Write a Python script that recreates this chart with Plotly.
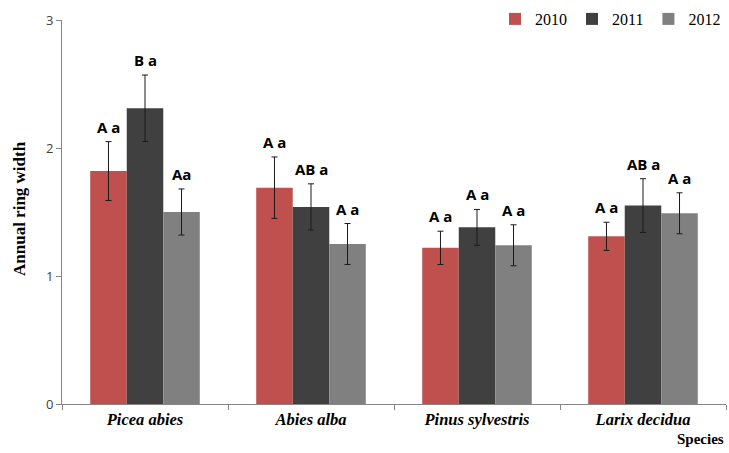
import plotly.graph_objects as go

# Mean annual ring width per species and year, with error margins
species = ["Picea abies", "Abies alba", "Pinus sylvestris", "Larix decidua"]
years = ["2010", "2011", "2012"]

width_2010 = [1.82, 1.69, 1.22, 1.31]
width_2011 = [2.31, 1.54, 1.38, 1.55]
width_2012 = [1.50, 1.25, 1.24, 1.49]

err_2010 = [0.23, 0.24, 0.13, 0.11]
err_2011 = [0.26, 0.18, 0.14, 0.21]
err_2012 = [0.18, 0.16, 0.16, 0.16]

# Significance letters shown above each bar
letters_2010 = ["A a", "A a", "A a", "A a"]
letters_2011 = ["B a", "AB a", "A a", "AB a"]
letters_2012 = ["Aa", "A a", "A a", "A a"]

y_ticks = [0, 1, 2, 3]

colors = ["#C0504D", "#404040", "#808080"]
values = [width_2010, width_2011, width_2012]
errors = [err_2010, err_2011, err_2012]
letters = [letters_2010, letters_2011, letters_2012]

W, H = 729, 453
margin = dict(l=62, r=3, t=19, b=49)
bargap = 0.34

fig = go.Figure()
for yr, vals, errs, col in zip(years, values, errors, colors):
    fig.add_trace(go.Bar(
        name=yr, x=species, y=vals, marker=dict(color=col, line=dict(width=0)),
        error_y=dict(type="data", array=errs, visible=True, color="#1a1a1a",
                     thickness=1, width=3),
    ))

# Letter annotations positioned over each bar in its group
plot_w = W - margin["l"] - margin["r"]
cat_w = plot_w / len(species)
bar_w = cat_w * (1 - bargap) / len(years)
annotations = []
for j, (vals, errs, labs) in enumerate(zip(values, errors, letters)):
    shift = (j - (len(years) - 1) / 2) * bar_w
    for sp, v, e, lab in zip(species, vals, errs, labs):
        annotations.append(dict(
            x=sp, y=v + e, xref="x", yref="y", text=lab, showarrow=False,
            xshift=shift, yshift=3, yanchor="bottom",
            font=dict(family="Open Sans", size=15, color="#000000", weight="bold"),
        ))

annotations.append(dict(
    x=1, y=-0.091, xref="paper", yref="paper", text="Species", showarrow=False,
    xanchor="right", yanchor="middle",
    font=dict(family="Liberation Serif", size=15, color="#000000", weight="bold"),
))
annotations.append(dict(
    x=-0.065, y=0.51, xref="paper", yref="paper", text="Annual ring width",
    showarrow=False, textangle=-90, xanchor="center", yanchor="middle",
    font=dict(family="Liberation Serif", size=17, color="#000000", weight="bold"),
))

fig.update_layout(
    width=W, height=H, margin=margin,
    paper_bgcolor="white", plot_bgcolor="white",
    barmode="group", bargap=bargap, bargroupgap=0,
    showlegend=True,
    legend=dict(orientation="h", x=1, xanchor="right", y=1.0, yanchor="middle",
                font=dict(family="Liberation Serif", size=16, color="#000000"),
                bgcolor="rgba(0,0,0,0)", itemwidth=30),
    annotations=annotations,
)
fig.update_xaxes(
    type="category", tickson="boundaries", ticks="outside", ticklen=5,
    tickcolor="#868686", showline=True, linecolor="#868686", linewidth=1,
    showgrid=False,
    tickfont=dict(family="Liberation Serif", size=16.5, color="#000000",
                  weight="bold", style="italic"),
)
fig.update_yaxes(
    range=[0, 3], tickvals=y_ticks, ticks="outside", ticklen=5,
    tickcolor="#868686", showline=True, linecolor="#868686", linewidth=1,
    showgrid=False, zeroline=False,
    tickfont=dict(family="Open Sans", size=13, color="#404040"),
)

fig.write_html("out.html")
